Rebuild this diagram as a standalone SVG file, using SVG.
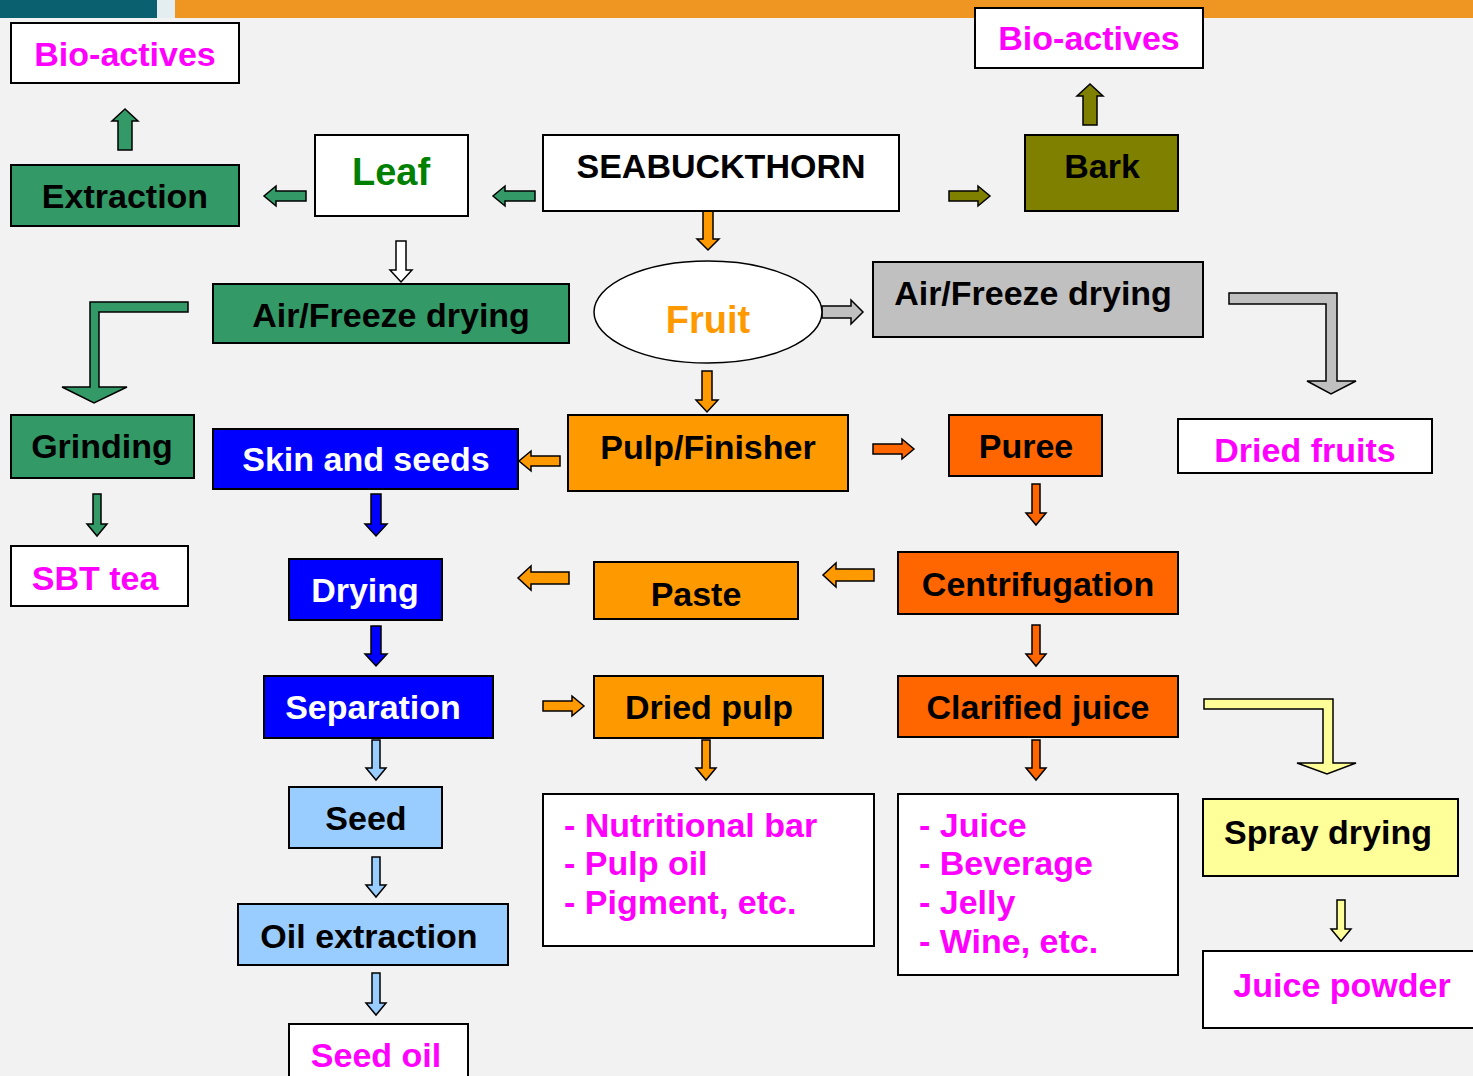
<svg xmlns="http://www.w3.org/2000/svg" width="1473" height="1076" viewBox="0 0 1473 1076">
<defs>
<style>
.bx{stroke:#000;stroke-width:2}
.t{font-family:"Liberation Sans",Arial,sans-serif;font-weight:bold;font-size:34px;text-anchor:middle}
.l{font-family:"Liberation Sans",Arial,sans-serif;font-weight:bold;font-size:34px}
.ar{stroke:#000;stroke-width:1.5;stroke-linejoin:miter}
.mag{fill:#ff00ff}
.blk{fill:#000}
.wht{fill:#fff}
.green{fill:#339966}
.olive{fill:#808000}
.orange{fill:#ff9900}
.red{fill:#ff6600}
.blue{fill:#0000ff}
.lblue{fill:#99ccff}
.gray{fill:#c0c0c0}
.yellow{fill:#ffff99}
</style>
</defs>
<rect x="0" y="0" width="1473" height="1076" fill="#f2f2f2"/>
<rect x="0" y="0" width="157" height="18" fill="#0b6070"/>
<rect x="157" y="0" width="18" height="18" fill="#e4eef0"/>
<rect x="175" y="0" width="1298" height="18" fill="#ee9522"/>

<g id="connectors">
<path class="ar green" d="M118,150 V121 H112 L125,109 L138,121 H132 V150 Z"/>
<path class="ar olive" d="M1083,125 V96 H1077 L1090,84 L1103,96 H1097 V125 Z"/>
<path class="ar green" d="M535,191 H505 V186 L493,196 L505,206 V201 H535 Z"/>
<path class="ar green" d="M306,191 H276 V186 L264,196 L276,206 V201 H306 Z"/>
<path class="ar olive" d="M949,191 H978 V186 L990,196 L978,206 V201 H949 Z"/>
<path class="ar gray" d="M822,306 H851 V300 L863,312 L851,324 V318 H822 Z"/>
<path class="ar red" d="M873,444 H902 V439 L914,449 L902,459 V454 H873 Z"/>
<path class="ar orange" d="M560,456 H531 V451 L519,461 L531,471 V466 H560 Z"/>
<path class="ar orange" d="M569,572 H531 V566 L518,578 L531,590 V584 H569 Z"/>
<path class="ar orange" d="M874,569 H836 V563 L823,575 L836,587 V581 H874 Z"/>
<path class="ar orange" d="M543,701 H572 V696 L584,706 L572,716 V711 H543 Z"/>
<path class="ar orange" d="M703,211 V239 H697 L708,250 L719,239 H713 V211 Z"/>
<path class="ar wht" d="M396,241 V270 H390 L401,282 L412,270 H406 V241 Z"/>
<path class="ar orange" d="M702,371 V400 H696 L707,412 L718,400 H712 V371 Z"/>
<path class="ar blue" d="M371,494 V524 H365 L376,536 L387,524 H381 V494 Z"/>
<path class="ar blue" d="M371,626 V654 H365 L376,666 L387,654 H381 V626 Z"/>
<path class="ar lblue" d="M372,740 V768 H366 L376,780 L386,768 H380 V740 Z"/>
<path class="ar lblue" d="M372,857 V885 H366 L376,897 L386,885 H380 V857 Z"/>
<path class="ar lblue" d="M372,973 V1003 H366 L376,1015 L386,1003 H380 V973 Z"/>
<path class="ar orange" d="M702,740 V768 H696 L706,780 L716,768 H710 V740 Z"/>
<path class="ar red" d="M1032,484 V513 H1026 L1036,525 L1046,513 H1040 V484 Z"/>
<path class="ar red" d="M1032,625 V654 H1026 L1036,666 L1046,654 H1040 V625 Z"/>
<path class="ar red" d="M1032,740 V768 H1026 L1036,780 L1046,768 H1040 V740 Z"/>
<path class="ar yellow" d="M1337,900 V929 H1331 L1341,941 L1351,929 H1345 V900 Z"/>
<path class="ar green" d="M93,494 V524 H87 L97,536 L107,524 H101 V494 Z"/>
<path class="ar green" d="M90,302 H188 V312 H99 V387 H127 L94,403 L62,387 H90 Z"/>
<path class="ar gray" d="M1229,293 H1337 V381 H1356 L1331,394 L1307,381 H1326 V304 H1229 Z"/>
<path class="ar yellow" d="M1204,699 H1333 V763 H1356 L1327,774 L1297,763 H1323 V709 H1204 Z"/>
</g>

<g id="bioactives-left"><rect class="bx wht" x="11" y="23" width="228" height="60"/><text class="t mag" x="125" y="66">Bio-actives</text></g>
<g id="extraction"><rect class="bx green" x="11" y="165" width="228" height="61"/><text class="t blk" x="125" y="208">Extraction</text></g>
<g id="leaf"><rect class="bx wht" x="315" y="135" width="153" height="81"/><text class="t" x="391" y="185" fill="#008000" style="font-size:38px">Leaf</text></g>
<g id="seabuckthorn"><rect class="bx wht" x="543" y="135" width="356" height="76"/><text class="t blk" x="721" y="178">SEABUCKTHORN</text></g>
<g id="bark"><rect class="bx olive" x="1025" y="135" width="153" height="76"/><text class="t blk" x="1102" y="178">Bark</text></g>
<g id="bioactives-right"><rect class="bx wht" x="975" y="8" width="228" height="60"/><text class="t mag" x="1089" y="50">Bio-actives</text></g>
<g id="airfreeze-leaf"><rect class="bx green" x="213" y="284" width="356" height="59"/><text class="t blk" x="391" y="327">Air/Freeze drying</text></g>
<g id="fruit"><ellipse cx="708" cy="312" rx="114" ry="51" fill="#fff" stroke="#000" stroke-width="1.5"/><text class="t" x="708" y="333" fill="#ff9900" style="font-size:38px">Fruit</text></g>
<g id="airfreeze-fruit"><rect class="bx gray" x="873" y="262" width="330" height="75"/><text class="t blk" x="1033" y="305">Air/Freeze drying</text></g>
<g id="grinding"><rect class="bx green" x="11" y="415" width="183" height="63"/><text class="t blk" x="102" y="458">Grinding</text></g>
<g id="skin-seeds"><rect class="bx blue" x="213" y="429" width="305" height="60"/><text class="t" x="366" y="471" fill="#fff">Skin and seeds</text></g>
<g id="pulp-finisher"><rect class="bx orange" x="568" y="415" width="280" height="76"/><text class="t blk" x="708" y="459">Pulp/Finisher</text></g>
<g id="puree"><rect class="bx red" x="949" y="415" width="153" height="61"/><text class="t blk" x="1026" y="458">Puree</text></g>
<g id="dried-fruits"><rect class="bx wht" x="1178" y="419" width="254" height="54"/><text class="t mag" x="1305" y="462">Dried fruits</text></g>
<g id="sbt-tea"><rect class="bx wht" x="11" y="546" width="177" height="60"/><text class="t mag" x="95" y="590">SBT tea</text></g>
<g id="drying"><rect class="bx blue" x="289" y="559" width="153" height="61"/><text class="t" x="365" y="602" fill="#fff">Drying</text></g>
<g id="paste"><rect class="bx orange" x="594" y="562" width="204" height="57"/><text class="t blk" x="696" y="606">Paste</text></g>
<g id="centrifugation"><rect class="bx red" x="898" y="552" width="280" height="62"/><text class="t blk" x="1038" y="596">Centrifugation</text></g>
<g id="separation"><rect class="bx blue" x="264" y="676" width="229" height="62"/><text class="t" x="373" y="719" fill="#fff">Separation</text></g>
<g id="dried-pulp"><rect class="bx orange" x="594" y="676" width="229" height="62"/><text class="t blk" x="709" y="719">Dried pulp</text></g>
<g id="clarified-juice"><rect class="bx red" x="898" y="676" width="280" height="61"/><text class="t blk" x="1038" y="719">Clarified juice</text></g>
<g id="seed"><rect class="bx lblue" x="289" y="787" width="153" height="61"/><text class="t blk" x="366" y="830">Seed</text></g>
<g id="pulp-products"><rect class="bx wht" x="543" y="794" width="331" height="152"/><text class="l mag" x="564" y="837">- Nutritional bar</text><text class="l mag" x="564" y="875">- Pulp oil</text><text class="l mag" x="564" y="914">- Pigment, etc.</text></g>
<g id="juice-products"><rect class="bx wht" x="898" y="794" width="280" height="181"/><text class="l mag" x="919" y="837">- Juice</text><text class="l mag" x="919" y="875">- Beverage</text><text class="l mag" x="919" y="914">- Jelly</text><text class="l mag" x="919" y="953">- Wine, etc.</text></g>
<g id="spray-drying"><rect class="bx yellow" x="1203" y="799" width="255" height="77"/><text class="t blk" x="1328" y="844">Spray drying</text></g>
<g id="oil-extraction"><rect class="bx lblue" x="238" y="904" width="270" height="61"/><text class="t blk" x="369" y="948">Oil extraction</text></g>
<g id="juice-powder"><rect class="bx wht" x="1203" y="951" width="280" height="77"/><text class="t mag" x="1342" y="997">Juice powder</text></g>
<g id="seed-oil"><rect class="bx wht" x="289" y="1024" width="179" height="62"/><text class="t mag" x="376" y="1067">Seed oil</text></g>
</svg>
